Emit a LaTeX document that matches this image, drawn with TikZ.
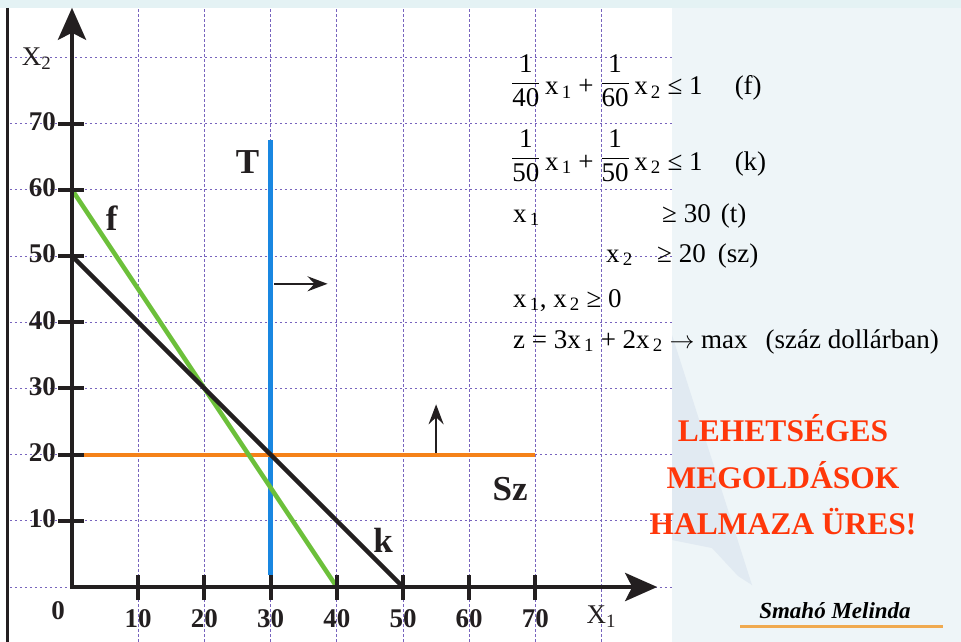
\documentclass[tikz,border=0pt]{standalone}
\usepackage{fontspec}
\setmainfont{Liberation Serif}
\usetikzlibrary{arrows.meta}
\definecolor{topband}{RGB}{228,242,244}
\definecolor{panel}{RGB}{238,245,248}
\definecolor{quill}{RGB}{225,234,242}
\definecolor{gridc}{RGB}{120,100,190}
\definecolor{axisc}{RGB}{35,31,32}
\definecolor{greenc}{RGB}{108,192,58}
\definecolor{bluec}{RGB}{25,135,225}
\definecolor{orangec}{RGB}{245,130,25}
\definecolor{redc}{RGB}{255,55,10}
\definecolor{signline}{RGB}{240,170,80}
\tikzset{
  gridline/.style={draw=gridc, line width=0.9pt, dash pattern=on 2.5pt off 2.5pt},
  axisline/.style={draw=axisc, line width=4.5pt},
  tickline/.style={draw=axisc, line width=4pt},
  ticklab/.style={font=\fontsize{27}{27}\selectfont\bfseries, inner sep=0pt, text=axisc},
  axislab/.style={font=\fontsize{27}{27}\selectfont, inner sep=0pt, text=axisc, anchor=base west},
  linelab/.style={font=\fontsize{35}{35}\selectfont\bfseries, inner sep=0pt, text=axisc},
  formula/.style={font=\fontsize{27}{30}\selectfont, inner sep=0pt, anchor=base west, text=black},
  redtxt/.style={font=\fontsize{31.5}{31.5}\selectfont\bfseries, text=redc, inner sep=0pt, anchor=base},
  signtxt/.style={font=\fontsize{23}{23}\selectfont\bfseries\itshape, inner sep=0pt, anchor=base, text=black},
  dirarrow/.style={draw=axisc, line width=2.3pt, -{Stealth[length=20pt,width=15pt,inset=7pt]}},
  bigtip/.tip={Stealth[length=32pt,width=28pt,inset=7pt]}
}
\newcommand{\fr}[2]{\raisebox{6pt}{$\displaystyle\frac{\mbox{#1}}{\mbox{#2}}$}}
\newcommand{\sbs}[1]{\textsubscript{\,#1}}
\begin{document}
\begin{tikzpicture}[x=1pt,y=-1pt]
\useasboundingbox (0,0) rectangle (961,642);
% background
\fill[white] (0,0) rectangle (961,642);
\fill[topband] (0,0) rectangle (961,8);
\fill[panel] (672,8) rectangle (961,642);
\fill[quill] (672,335) -- (752,585) -- (738,576) -- (712,548) -- (672,540) -- cycle;
\draw[axisc, line width=3pt] (7,8) -- (7,642);

\begin{scope}[shift={(72,587)}, x=6.62pt, y=6.62pt]
  % grid
  \foreach \k in {0,10,...,80} \draw[gridline] (-9.4,\k) -- (90.6,\k);
  \foreach \k in {10,20,...,80} \draw[gridline] (\k,-8.3) -- (\k,87.5);
  % constraint lines
  \draw[bluec, line width=4.5pt] (30,1.8) -- (30,67.5);
  \draw[orangec, line width=4pt] (1.8,20) -- (70,20);
  \draw[greenc, line width=4.5pt] (0,60) -- (40,0);
  \draw[axisc, line width=4.5pt] (0,50) -- (50,0);
  % direction arrows
  \coordinate (ta) at (30.5,45.8);
  \coordinate (tb) at (38.6,45.8);
  \coordinate (sa) at (55,20.3);
  \coordinate (sb) at (55,27.6);
  \draw[dirarrow] (ta) -- (tb);
  \draw[dirarrow] (sa) -- (sb);
  % axes
  \coordinate (ytop) at (0,87.5);
  \coordinate (orig) at (0,0);
  \coordinate (xend) at (88.4,0);
  \draw[axisline, {bigtip}-{bigtip}] (ytop) -- (orig) -- (xend);
  % ticks and labels
  \foreach \k in {10,20,...,70} {
    \draw[tickline] (\k,-2.0) -- (\k,1.8);
    \draw[tickline] (-2.1,\k) -- (1.8,\k);
    \node[ticklab, anchor=east] (yl\k) at (-2.4,\k+0.3) {\k};
    \node[ticklab] (xl\k) at (\k,-4.8) {\k};
  }
  \node[ticklab] (zero) at (-2.1,-3.6) {0};
  \node[axislab] (xlab) at (77.7,-5.5) {X\textsubscript{1}};
  \node[axislab] (ylab) at (-7.6,78.8) {X\textsubscript{2}};
  % line labels
  \node[linelab] (lT) at (26.5,64.2) {T};
  \node[linelab] (lf) at (6.0,55.7) {f};
  \node[linelab] (lk) at (47.0,7.1) {k};
  \node[linelab] (lSz) at (66.2,14.8) {Sz};
\end{scope}

% formulas
\node[formula] (r1) at (511,95) {\fr{1}{40}\,x\sbs{1} + \fr{1}{60}\,x\sbs{2} ≤ 1\hspace{32pt}(f)};
\node[formula] (r2) at (511,170) {\fr{1}{50}\,x\sbs{1} + \fr{1}{50}\,x\sbs{2} ≤ 1\hspace{32pt}(k)};
\node[formula] (r3a) at (513,222) {x\sbs{1}};
\node[formula] (r3b) at (662,222) {≥ 30\hspace{10pt}(t)};
\node[formula] (r4a) at (606,262) {x\sbs{2}};
\node[formula] (r4b) at (657,262) {≥ 20\hspace{12pt}(sz)};
\node[formula] (r5) at (513,307) {x\sbs{1}, x\sbs{2} ≥ 0};
\node[formula] (r6) at (513,348) {z = 3x\sbs{1} + 2x\sbs{2} $\rightarrow$ max\hspace{18pt}(száz dollárban)};

% result text
\node[redtxt] (m1) at (783,441) {LEHETSÉGES};
\node[redtxt] (m2) at (783,488) {MEGOLDÁSOK};
\node[redtxt] (m3) at (783,534) {HALMAZA ÜRES!};

% signature
\node[signtxt] (sig) at (835,618) {Smahó Melinda};
\coordinate (ula) at (740,626);
\coordinate (ulb) at (943,626);
\draw[signline, line width=3pt] (ula) -- (ulb);
\end{tikzpicture}
\end{document}
